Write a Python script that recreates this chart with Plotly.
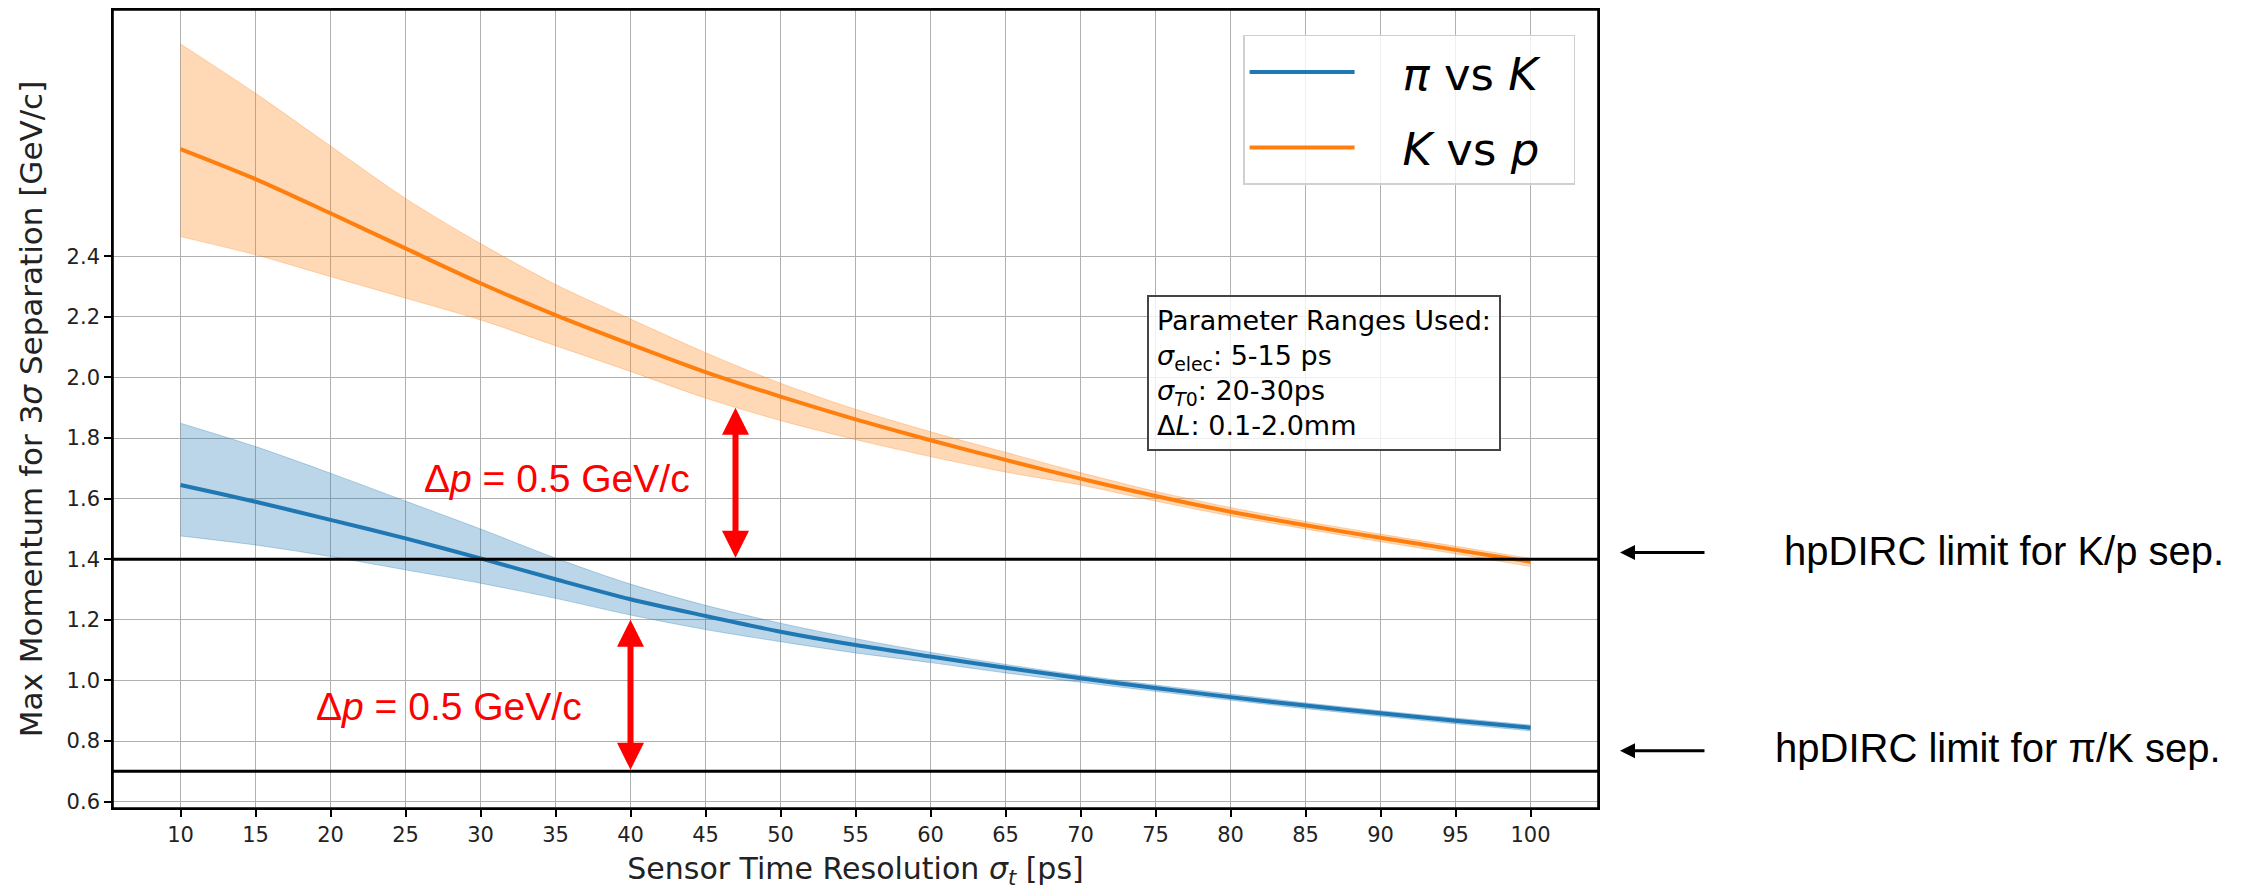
import plotly.graph_objects as go

# ---------------- data ----------------
sigma_t = [10, 15, 20, 25, 30, 35, 40, 45, 50, 55, 60, 65, 70, 75, 80, 85, 90, 95, 100]

pik_center = [1.645, 1.590, 1.530, 1.469, 1.403, 1.334, 1.268, 1.213, 1.161, 1.117,
              1.079, 1.042, 1.007, 0.975, 0.945, 0.917, 0.892, 0.867, 0.844]
pik_upper = [1.849, 1.772, 1.684, 1.592, 1.500, 1.404, 1.318, 1.248, 1.189, 1.138,
             1.093, 1.053, 1.017, 0.985, 0.955, 0.926, 0.900, 0.876, 0.853]
pik_lower = [1.477, 1.447, 1.409, 1.365, 1.321, 1.271, 1.216, 1.168, 1.128, 1.091,
             1.059, 1.025, 0.994, 0.964, 0.935, 0.907, 0.882, 0.857, 0.834]

kp_center = [2.754, 2.655, 2.542, 2.426, 2.311, 2.206, 2.110, 2.018, 1.937, 1.862,
             1.793, 1.728, 1.666, 1.609, 1.557, 1.512, 1.471, 1.431, 1.392]
kp_upper = [3.101, 2.938, 2.764, 2.591, 2.442, 2.307, 2.193, 2.082, 1.981, 1.895,
            1.821, 1.753, 1.686, 1.624, 1.571, 1.525, 1.483, 1.443, 1.403]
kp_lower = [2.465, 2.405, 2.333, 2.262, 2.190, 2.105, 2.020, 1.932, 1.858, 1.795,
            1.739, 1.688, 1.645, 1.592, 1.543, 1.500, 1.458, 1.418, 1.376]

x_ticks = sigma_t
y_ticks = [0.6, 0.8, 1.0, 1.2, 1.4, 1.6, 1.8, 2.0, 2.2, 2.4]
y_tick_labels = ["0.6", "0.8", "1.0", "1.2", "1.4", "1.6", "1.8", "2.0", "2.2", "2.4"]

hpdirc_kp_limit = 1.4
hpdirc_pik_limit = 0.7
delta_p = 0.5
arrow_kp_x = 47
arrow_pik_x = 40

legend_names = ["<i>π</i> vs <i>K</i>", "<i>K</i> vs <i>p</i>"]
param_text = ("Parameter Ranges Used:<br>"
              "<i>σ</i><sub>elec</sub>: 5-15 ps<br>"
              "<i>σ</i><sub><i>T</i>0</sub>: 20-30ps<br>"
              "Δ<i>L</i>: 0.1-2.0mm")

BLUE = "#1f77b4"
ORANGE = "#ff7f0e"
BLUE_F = "rgba(31,119,180,0.3)"
ORANGE_F = "rgba(255,127,14,0.3)"
FONT = "DejaVu Sans"
CAL = "Liberation Sans, Arial, sans-serif"
NB = "\u00a0"

fig = go.Figure()


def add_band(lower, upper, center, color, fcolor, name, group):
    fig.add_trace(go.Scatter(x=sigma_t, y=lower, mode="lines",
                             line=dict(color=fcolor, width=1, shape="spline", smoothing=0.8),
                             showlegend=False, hoverinfo="skip", legendgroup=group))
    fig.add_trace(go.Scatter(x=sigma_t, y=upper, mode="lines", fill="tonexty",
                             fillcolor=fcolor,
                             line=dict(color=fcolor, width=1, shape="spline", smoothing=0.8),
                             showlegend=False, hoverinfo="skip", legendgroup=group))
    fig.add_trace(go.Scatter(x=sigma_t, y=center, mode="lines",
                             name=NB * 3 + name + NB * 2,
                             line=dict(color=color, width=4, shape="spline", smoothing=0.8),
                             legendgroup=group))


add_band(pik_lower, pik_upper, pik_center, BLUE, BLUE_F, legend_names[0], "a")
add_band(kp_lower, kp_upper, kp_center, ORANGE, ORANGE_F, legend_names[1], "b")

# hpDIRC limit lines
for yv in (hpdirc_kp_limit, hpdirc_pik_limit):
    fig.add_shape(type="line", xref="paper", x0=0, x1=1, yref="y", y0=yv, y1=yv,
                  line=dict(color="black", width=3), layer="above")

# axes frame
fig.add_shape(type="rect", xref="paper", yref="paper", x0=0, x1=1, y0=0, y1=1,
              line=dict(color="black", width=1.6), layer="above")

annotations = []
# red double arrows
for ax_x, base in ((arrow_kp_x, hpdirc_kp_limit), (arrow_pik_x, hpdirc_pik_limit)):
    annotations.append(dict(x=ax_x, y=base + delta_p, xref="x", yref="y",
                            ax=ax_x, ay=base, axref="x", ayref="y", text="",
                            showarrow=True, arrowside="end+start",
                            arrowhead=2, startarrowhead=2,
                            arrowsize=0.9, startarrowsize=0.9,
                            arrowwidth=6, arrowcolor="red",
                            standoff=0, startstandoff=0))

dp_text = "Δ<i>p</i> = 0.5 GeV/c"
annotations.append(dict(x=26.1, y=1.668, xref="x", yref="y", text=dp_text,
                        showarrow=False, xanchor="left", yanchor="middle",
                        font=dict(family=CAL, size=39, color="red")))
annotations.append(dict(x=18.9, y=0.9135, xref="x", yref="y", text=dp_text,
                        showarrow=False, xanchor="left", yanchor="middle",
                        font=dict(family=CAL, size=39, color="red")))

# parameter box
annotations.append(dict(x=0.696, y=0.643, xref="paper", yref="paper", text=param_text,
                        showarrow=False, xanchor="left", yanchor="top", align="left",
                        font=dict(family=FONT, size=27, color="black"),
                        bgcolor="rgba(255,255,255,0.8)", bordercolor="#444444",
                        borderwidth=2, borderpad=8))

# right side labels with black arrows
for yv_arrow, yv_text, xt, txt in ((1.422, 1.4265, 1.1239, "hpDIRC limit for K/p sep."),
                                   (0.768, 0.778, 1.1177, "hpDIRC limit for π/K sep.")):
    annotations.append(dict(x=1.0148, y=yv_arrow, xref="paper", yref="y", text="",
                            showarrow=True, ax=86, ay=0, arrowhead=2, arrowsize=1.0,
                            arrowwidth=3, arrowcolor="black", standoff=0))
    annotations.append(dict(x=xt, y=yv_text, xref="paper", yref="y", text=txt,
                            showarrow=False, xanchor="left", yanchor="middle",
                            font=dict(family=CAL, size=40, color="black")))

# the page body adds an 8 px offset, so the figure is 8 px smaller than the window
fig.update_layout(
    width=2249, height=882,
    margin=dict(l=105, r=659, t=2, b=82),
    plot_bgcolor="white", paper_bgcolor="white",
    font=dict(family=FONT, color="#222222"),
    showlegend=True,
    legend=dict(x=0.761, y=0.969, xanchor="left", yanchor="top",
                font=dict(family=FONT, size=45, color="black"),
                bgcolor="rgba(255,255,255,0.8)", bordercolor="#d0d0d0", borderwidth=1.5,
                tracegroupgap=14, itemwidth=105, traceorder="grouped"),
    annotations=annotations,
    xaxis=dict(range=[5.5, 104.5], tickvals=x_ticks, ticks="outside", ticklen=7,
               tickwidth=1.5, tickcolor="black", showline=True, linecolor="black",
               linewidth=1.6, mirror=True, showgrid=True, gridcolor="#b0b0b0",
               gridwidth=1.2, zeroline=False, automargin=False,
               tickfont=dict(family=FONT, size=21, color="#222222"),
               title=dict(text="Sensor Time Resolution <i>σ</i><sub><i>t</i></sub> [ps]",
                          font=dict(family=FONT, size=30, color="#222222"), standoff=13)),
    yaxis=dict(range=[0.579, 3.213], tickvals=y_ticks, ticktext=y_tick_labels,
               ticks="outside", ticklen=7, tickwidth=1.5, tickcolor="black",
               showline=True, linecolor="black", linewidth=1.6, mirror=True,
               showgrid=True, gridcolor="#b0b0b0", gridwidth=1.2, zeroline=False,
               automargin=False,
               tickfont=dict(family=FONT, size=21, color="#222222"),
               title=dict(text="Max Momentum for 3<i>σ</i> Separation [GeV/c]",
                          font=dict(family=FONT, size=31, color="#222222"), standoff=15)),
)

fig.write_html("out.html")
